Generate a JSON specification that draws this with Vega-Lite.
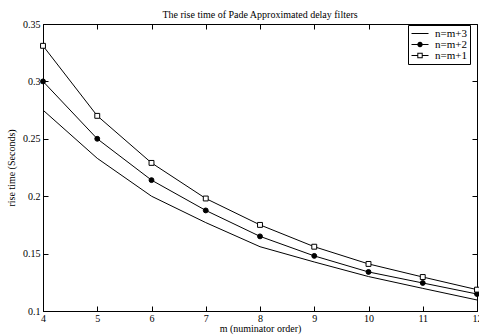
{
  "$schema": "https://vega.github.io/schema/vega-lite/v6.json",
  "width": 434,
  "height": 287,
  "autosize": "none",
  "padding": {"left": 43, "top": 24, "right": 2, "bottom": 24},
  "background": "white",
  "config": {
    "font": "Liberation Serif",
    "view": {"stroke": "black", "strokeWidth": 1},
    "axis": {
      "domainColor": "black",
      "tickColor": "black",
      "labelColor": "black",
      "titleColor": "black",
      "labelFont": "Liberation Serif",
      "titleFont": "Liberation Serif",
      "labelFontSize": 10,
      "titleFontSize": 10,
      "titleFontWeight": "normal",
      "grid": false,
      "tickSize": -5
    },
    "legend": {"labelFont": "Liberation Serif", "labelFontSize": 11, "labelColor": "black"},
    "title": {"font": "Liberation Serif", "fontSize": 10, "fontWeight": "normal", "color": "black", "offset": 0}
  },
  "title": {"text": "The rise time of Pade Approximated delay filters", "dy": 5},
  "data": {
    "values": [
      {"m": 4, "series": "n=m+1", "t": 0.331},
      {"m": 5, "series": "n=m+1", "t": 0.270},
      {"m": 6, "series": "n=m+1", "t": 0.229},
      {"m": 7, "series": "n=m+1", "t": 0.198},
      {"m": 8, "series": "n=m+1", "t": 0.175},
      {"m": 9, "series": "n=m+1", "t": 0.156},
      {"m": 10, "series": "n=m+1", "t": 0.141},
      {"m": 11, "series": "n=m+1", "t": 0.1296},
      {"m": 12, "series": "n=m+1", "t": 0.1186},
      {"m": 4, "series": "n=m+2", "t": 0.300},
      {"m": 5, "series": "n=m+2", "t": 0.250},
      {"m": 6, "series": "n=m+2", "t": 0.214},
      {"m": 7, "series": "n=m+2", "t": 0.1876},
      {"m": 8, "series": "n=m+2", "t": 0.165},
      {"m": 9, "series": "n=m+2", "t": 0.148},
      {"m": 10, "series": "n=m+2", "t": 0.134},
      {"m": 11, "series": "n=m+2", "t": 0.1244},
      {"m": 12, "series": "n=m+2", "t": 0.1148},
      {"m": 4, "series": "n=m+3", "t": 0.275},
      {"m": 5, "series": "n=m+3", "t": 0.233},
      {"m": 6, "series": "n=m+3", "t": 0.200},
      {"m": 7, "series": "n=m+3", "t": 0.177},
      {"m": 8, "series": "n=m+3", "t": 0.156},
      {"m": 9, "series": "n=m+3", "t": 0.1427},
      {"m": 10, "series": "n=m+3", "t": 0.130},
      {"m": 11, "series": "n=m+3", "t": 0.1197},
      {"m": 12, "series": "n=m+3", "t": 0.1096}
    ]
  },
  "resolve": {"axis": {"x": "independent", "y": "independent"}},
  "layer": [
    {
      "mark": {"type": "line", "color": "black", "strokeWidth": 1, "clip": false},
      "encoding": {
        "x": {
          "field": "m", "type": "quantitative",
          "scale": {"domain": [4, 12], "nice": false, "zero": false},
          "axis": {"values": [4, 5, 6, 7, 8, 9, 10, 11, 12], "title": "m (numinator order)", "labelPadding": 7, "titlePadding": 0, "labelFlush": false}
        },
        "y": {
          "field": "t", "type": "quantitative",
          "scale": {"domain": [0.1, 0.35], "nice": false, "zero": false},
          "axis": {"values": [0.1, 0.15, 0.2, 0.25, 0.3, 0.35], "format": "~g", "title": "rise time (Seconds)", "labelPadding": 8, "titlePadding": 6, "labelFlush": false}
        },
        "detail": {"field": "series"}
      }
    },
    {
      "transform": [{"filter": "datum.series === 'n=m+2'"}],
      "mark": {"type": "point", "shape": "circle", "size": 24, "filled": true, "fill": "black", "stroke": "black", "strokeWidth": 1, "opacity": 1, "clip": false},
      "encoding": {
        "x": {
          "field": "m", "type": "quantitative",
          "axis": {"orient": "top", "values": [4, 5, 6, 7, 8, 9, 10, 11, 12], "labels": false, "title": null, "domain": false}
        },
        "y": {
          "field": "t", "type": "quantitative",
          "axis": {"orient": "right", "values": [0.1, 0.15, 0.2, 0.25, 0.3, 0.35], "labels": false, "title": null, "domain": false}
        }
      }
    },
    {
      "transform": [{"filter": "datum.series === 'n=m+1'"}],
      "mark": {"type": "point", "shape": "square", "size": 24, "filled": true, "fill": "white", "stroke": "black", "strokeWidth": 1, "opacity": 1, "clip": false},
      "encoding": {
        "x": {"field": "m", "type": "quantitative", "axis": null},
        "y": {"field": "t", "type": "quantitative", "axis": null}
      }
    },
    {
      "transform": [{"filter": "datum.m > 99"}],
      "mark": {"type": "point", "size": 81, "filled": true, "fill": "black", "strokeWidth": 0, "opacity": 1},
      "encoding": {
        "shape": {
          "field": "series", "type": "nominal",
          "scale": {
            "domain": ["n=m+3", "n=m+2", "n=m+1"],
            "range": [
              "M-1.11,-0.11H2.67V0.11H-1.11Z",
              "M-1.11,-0.11H2.67V0.11H-1.11ZM1.38,0A0.6,0.6,0,1,1,0.18,0A0.6,0.6,0,1,1,1.38,0Z",
              "M-1.11,-0.11H0.18V0.11H-1.11ZM1.38,-0.11H2.67V0.11H1.38ZM0.18,-0.6H1.38V0.6H0.18ZM0.4,-0.38V0.38H1.16V-0.38Z"
            ]
          },
          "legend": {
            "title": null,
            "orient": "none",
            "legendX": 365,
            "legendY": 1,
            "strokeColor": "black",
            "fillColor": "white",
            "padding": 3,
            "labelFont": "Liberation Serif",
            "labelFontSize": 11,
            "labelColor": "black",
            "labelOffset": 13,
            "rowPadding": -3,
            "symbolSize": 81,
            "symbolFillColor": "black",
            "symbolStrokeWidth": 0,
            "symbolOpacity": 1
          }
        }
      }
    }
  ]
}
